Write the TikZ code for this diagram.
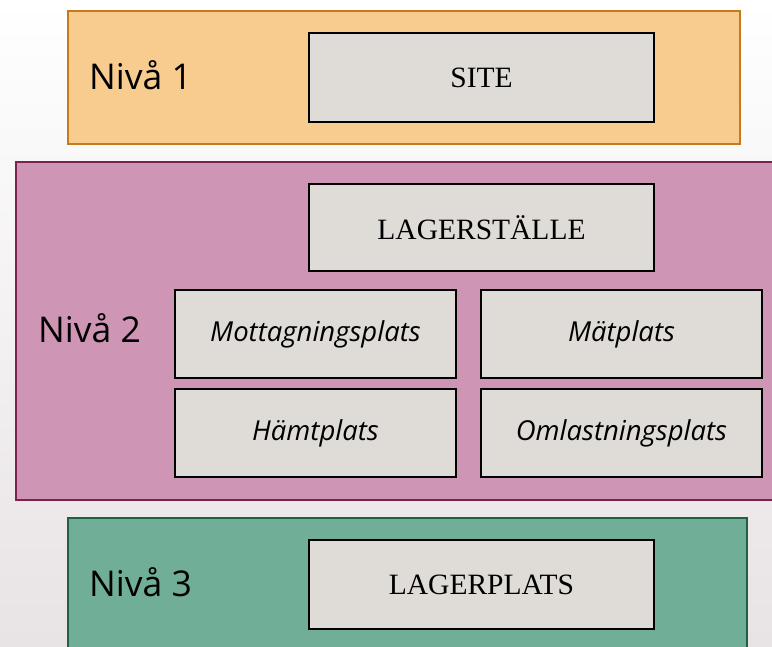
\documentclass[tikz,border=0pt]{standalone}
\usepackage{fontspec}
\setmainfont{Open Sans}
\newfontfamily\boxserif{Liberation Serif}
\definecolor{bgtop}{HTML}{FFFFFF}
\definecolor{bgbot}{HTML}{E8E3E5}
\definecolor{orfill}{HTML}{F8CB8F}
\definecolor{ordraw}{HTML}{C47B1E}
\definecolor{pkfill}{HTML}{CF95B5}
\definecolor{pkdraw}{HTML}{7B2350}
\definecolor{grfill}{HTML}{71AE98}
\definecolor{grdraw}{HTML}{1E6242}
\definecolor{boxfill}{HTML}{DFDCD7}
\tikzset{
  x=1pt, y=-1pt,
  inner/.style={draw=black, line width=1.5pt, fill=boxfill},
  level/.style={line width=1.5pt},
  lvlabel/.style={anchor=base west, font=\fontsize{35.5}{40}\selectfont, inner sep=0pt},
  serifbox/.style={font=\boxserif\fontsize{29.5}{32}\selectfont},
  itbox/.style={font=\itshape\fontsize{27.5}{30}\selectfont},
}
\begin{document}
\begin{tikzpicture}
\useasboundingbox (0,0) rectangle (772,647);
\shade[top color=bgtop, bottom color=bgbot] (0,0) rectangle (772,647);
% Level 1
\draw[level, draw=ordraw, fill=orfill] (68,11) rectangle (740,144);
\draw[inner] (309,33) rectangle (654,122);
\node[serifbox] (site) at (481.5,77.5) {SITE};
\node[lvlabel] (n1) at (89,90) {Nivå 1};
% Level 2
\draw[level, draw=pkdraw, fill=pkfill] (16,162) rectangle (790,500);
\draw[inner] (309,184) rectangle (654,271);
\node[serifbox] (lager) at (481.5,227.5) {LAGERSTÄLLE};
\draw[inner] (175,290) rectangle (456,378);
\node[itbox] (mott) at (315.5,334) {Mottagningsplats};
\draw[inner] (481,290) rectangle (762,378);
\node[itbox] (mat) at (621.5,334) {Mätplats};
\draw[inner] (175,389) rectangle (456,477);
\node[itbox] (hamt) at (315.5,433) {Hämtplats};
\draw[inner] (481,389) rectangle (762,477);
\node[itbox] (omlast) at (621.5,433) {Omlastningsplats};
\node[lvlabel] (n2) at (38,343) {Nivå 2};
% Level 3
\draw[level, draw=grdraw, fill=grfill] (68,518) rectangle (747,670);
\draw[inner] (309,540) rectangle (654,629);
\node[serifbox] (lplats) at (481.5,584.5) {LAGERPLATS};
\node[lvlabel] (n3) at (89,596) {Nivå 3};
\end{tikzpicture}
\end{document}
